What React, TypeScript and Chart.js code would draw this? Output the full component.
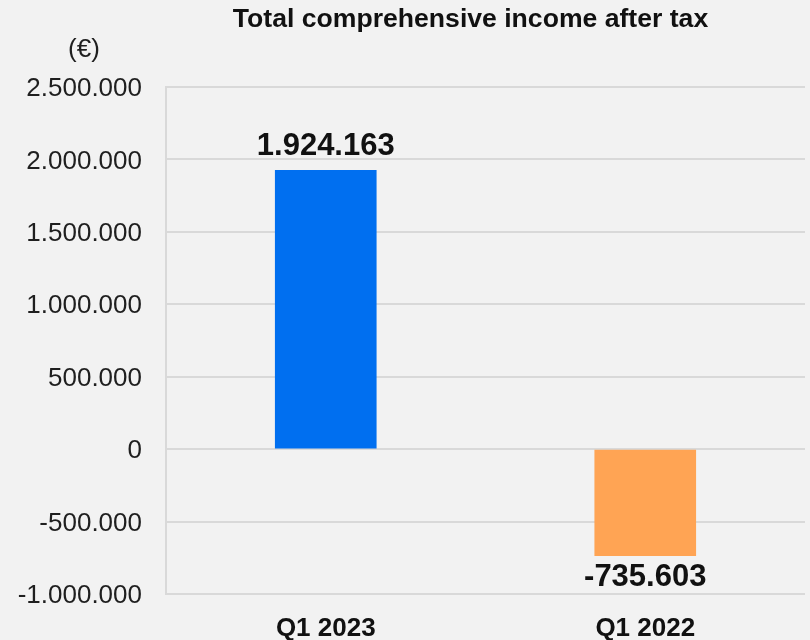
import React, { useEffect, useRef } from "react";
import { Chart, registerables } from "chart.js";

Chart.register(...registerables);

const chartTitle = "Total comprehensive income after tax";
const unitLabel = "(€)";
const categories = ["Q1 2023", "Q1 2022"];
const values = [1924163, -735603];
const barColors = ["#006ff0", "#ffa454"];
const yMin = -1000000;
const yMax = 2500000;
const yStep = 500000;

const FONT = '"Liberation Sans", Arial, Helvetica, sans-serif';

function fmt(n: number): string {
  const sign = n < 0 ? "-" : "";
  const s = Math.abs(Math.round(n)).toString();
  return sign + s.replace(/\B(?=(\d{3})+(?!\d))/g, ".");
}

const overlayPlugin = {
  id: "overlay",
  beforeDraw(chart: any) {
    const ctx = chart.ctx;
    ctx.save();
    ctx.fillStyle = "#f2f2f2";
    ctx.fillRect(0, 0, chart.width, chart.height);
    ctx.restore();
  },
  afterDatasetsDraw(chart: any) {
    const ctx = chart.ctx;
    const area = chart.chartArea;
    const meta = chart.getDatasetMeta(0);
    ctx.save();
    ctx.fillStyle = "#111111";
    ctx.textAlign = "center";
    ctx.textBaseline = "alphabetic";
    ctx.font = `bold 31px ${FONT}`;
    meta.data.forEach((el: any, i: number) => {
      const v = values[i];
      const { x, y } = el.getProps(["x", "y"], true);
      if (v >= 0) ctx.fillText(fmt(v), x, y - 15);
      else ctx.fillText(fmt(v), x, y + 30);
    });
    ctx.font = `bold 26.6px ${FONT}`;
    ctx.fillText(chartTitle, (area.left + area.right) / 2 - 15, 27);
    ctx.font = `26px ${FONT}`;
    ctx.fillStyle = "#1f1f1f";
    ctx.fillText(unitLabel, area.left - 82, area.top - 30);
    ctx.restore();
  },
};

export default function App() {
  const ref = useRef<HTMLCanvasElement | null>(null);

  useEffect(() => {
    document.body.style.margin = "0";
    document.body.style.background = "#f2f2f2";
    const canvas = ref.current;
    if (!canvas) return;
    const chart = new Chart(canvas, {
      type: "bar",
      data: {
        labels: categories,
        datasets: [
          {
            data: values,
            backgroundColor: barColors,
            borderWidth: 0,
            barThickness: 101,
          },
        ],
      },
      options: {
        responsive: false,
        animation: false,
        devicePixelRatio: 1,
        layout: { padding: { top: 87, left: 0, right: 5, bottom: 0 } },
        plugins: {
          legend: { display: false },
          title: { display: false },
          tooltip: { enabled: false },
        },
        scales: {
          x: {
            grid: { display: false, drawTicks: false },
            border: { display: false },
            afterFit: (scale: any) => {
              scale.height = 46;
            },
            ticks: {
              padding: 22,
              color: "#111111",
              font: { family: FONT, size: 26, weight: "bold", lineHeight: 1.0 },
            },
          },
          y: {
            min: yMin,
            max: yMax,
            grid: { color: "#d9d9d9", lineWidth: 2, drawTicks: false },
            border: { display: true, color: "#d9d9d9", width: 2 },
            afterFit: (scale: any) => {
              scale.width = 166;
            },
            ticks: {
              stepSize: yStep,
              padding: 24,
              labelOffset: 2,
              color: "#1f1f1f",
              font: { family: FONT, size: 26, lineHeight: 1.0 },
              callback: (v: any) => fmt(Number(v)),
            },
          },
        },
      },
      plugins: [overlayPlugin],
    });
    return () => chart.destroy();
  }, []);

  return (
    <div style={{ position: "fixed", left: 0, top: 0, width: 810, height: 640, background: "#f2f2f2" }}>
      <canvas ref={ref} width={810} height={640} style={{ display: "block", width: 810, height: 640 }} />
    </div>
  );
}
